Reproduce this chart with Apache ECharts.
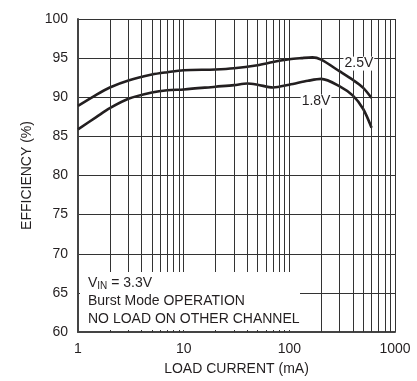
<!DOCTYPE html>
<html>
<head>
<meta charset="utf-8">
<script src="https://cdn.jsdelivr.net/npm/echarts@6/dist/echarts.min.js"></script>
<style>
  html, body { margin: 0; padding: 0; background: #fff; }
  #chart { width: 417px; height: 381px; }
</style>
</head>
<body>
<div id="chart"></div>
<script>
// 效率曲线 (负载电流 vs 效率)
const font = 'Liberation Sans'
const ink = '#231f20'

const current25 = [1, 1.5, 2, 3, 5, 7, 10, 20, 30, 50, 70, 100, 130, 165, 200, 300, 400, 500, 600]
const eff25 = [88.9, 90.35, 91.25, 92.15, 92.9, 93.2, 93.45, 93.55, 93.7, 94.1, 94.5, 94.85, 95.0, 95.1, 94.8, 93.3, 92.2, 91.2, 89.9]

const current18 = [1, 1.5, 2, 3, 5, 7, 10, 20, 30, 40, 50, 70, 100, 150, 200, 300, 400, 500, 600]
const eff18 = [85.9, 87.5, 88.6, 89.8, 90.6, 90.9, 91.0, 91.35, 91.55, 91.75, 91.6, 91.25, 91.6, 92.1, 92.35, 91.4, 90.2, 88.5, 86.1]

// 对数轴的次网格线
const minorX = [2, 3, 4, 5, 6, 7, 8, 9, 20, 30, 40, 50, 60, 70, 80, 90, 200, 300, 400, 500, 600, 700, 800, 900]

// 曲线标签位置
const label25 = [455, 94.3]
const label18 = [179, 89.45]

function pairs(xs, ys) {
  return xs.map((x, i) => [x, ys[i]])
}

const chart = echarts.init(document.getElementById('chart'), null, { renderer: 'canvas' })

const curveLabel = (text, coord) => ({
  symbol: 'circle',
  symbolSize: 1,
  silent: true,
  itemStyle: { color: 'rgba(0,0,0,0)' },
  label: {
    show: true,
    formatter: text,
    position: 'inside',
    color: ink,
    fontFamily: font,
    fontSize: 14,
    backgroundColor: '#fff',
    padding: [0, 1]
  },
  data: [{ coord: coord }]
})

const option = {
  animation: false,
  backgroundColor: '#fff',
  textStyle: { fontFamily: font },
  grid: { left: 78, right: 22, top: 19, bottom: 46 },
  xAxis: {
    type: 'log',
    logBase: 10,
    min: 1,
    max: 1000,
    name: 'LOAD CURRENT (mA)',
    nameLocation: 'middle',
    nameGap: 30,
    nameTextStyle: { color: ink, fontSize: 14, fontFamily: font },
    axisLine: { show: true, lineStyle: { color: '#444', width: 2 } },
    axisTick: { show: false },
    axisLabel: { color: ink, fontSize: 14, fontFamily: font, margin: 10, formatter: v => String(v) },
    splitLine: { show: true, lineStyle: { color: '#333', width: 1 } }
  },
  yAxis: {
    type: 'value',
    min: 60,
    max: 100,
    interval: 5,
    name: 'EFFICIENCY (%)',
    nameLocation: 'middle',
    nameGap: 44,
    nameTextStyle: { color: ink, fontSize: 14, fontFamily: font },
    axisLine: { show: true, lineStyle: { color: '#444', width: 2 } },
    axisTick: { show: false },
    axisLabel: { color: ink, fontSize: 14, fontFamily: font, margin: 10 },
    splitLine: { show: true, lineStyle: { color: '#333', width: 1 } }
  },
  series: [
    {
      // 次网格线
      type: 'line',
      data: [],
      silent: true,
      z: 1,
      markLine: {
        silent: true,
        symbol: 'none',
        label: { show: false },
        lineStyle: { color: '#333', width: 1, type: 'solid' },
        data: minorX.map(v => ({ xAxis: v }))
      }
    },
    {
      name: '2.5V',
      type: 'line',
      smooth: 0.3,
      showSymbol: false,
      z: 3,
      lineStyle: { color: ink, width: 2.6 },
      data: pairs(current25, eff25),
      markPoint: curveLabel('2.5V', label25)
    },
    {
      name: '1.8V',
      type: 'line',
      smooth: 0.3,
      showSymbol: false,
      z: 3,
      lineStyle: { color: ink, width: 2.6 },
      data: pairs(current18, eff18),
      markPoint: curveLabel('1.8V', label18)
    }
  ],
  graphic: [
    {
      type: 'rect',
      z: 50,
      shape: { x: 80, y: 272, width: 220, height: 58 },
      style: { fill: '#fff' }
    },
    {
      type: 'text',
      z: 51,
      left: 88,
      top: 274,
      style: {
        text: '{a|V}{s|IN}{a| = 3.3V}\n{a|Burst Mode OPERATION}\n{a|NO LOAD ON OTHER CHANNEL}',
        fill: ink,
        lineHeight: 18,
        rich: {
          a: { fontFamily: font, fontSize: 14, fill: ink, lineHeight: 18 },
          s: { fontFamily: font, fontSize: 10, fill: ink, lineHeight: 18, padding: [6, 0, 0, 0] }
        }
      }
    }
  ]
}

chart.setOption(option)
</script>
</body>
</html>
